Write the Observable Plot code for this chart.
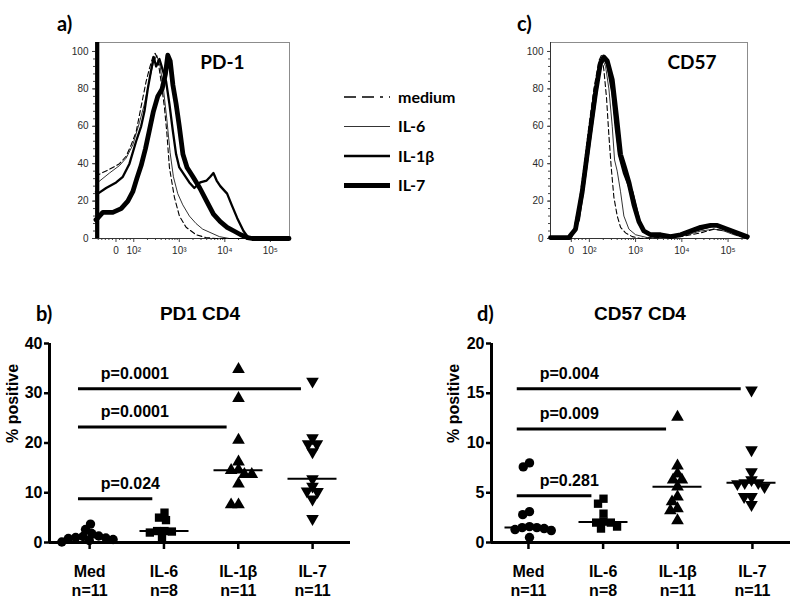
<!DOCTYPE html>
<html><head><meta charset="utf-8">
<script src="https://cdn.jsdelivr.net/npm/d3@7"></script>
<script src="https://cdn.jsdelivr.net/npm/@observablehq/plot@0.6"></script>
<style>
body{margin:0;background:#fff;}
#fig{position:relative;width:800px;height:599px;background:#fff;overflow:hidden;}
#fig > svg{position:absolute;}
</style></head><body><div id="fig"></div>
<script>
// ---------------- data ----------------
const groups = ["Med", "IL-6", "IL-1β", "IL-7"];
const groupN = [11, 8, 11, 11];

// % positive, PD1 on CD4
const pd1Med  = [3.7, 2.6, 1.8, 1.3, 1.2, 1.0, 0.9, 0.8, 0.6, 0.4, 0.1];
const pd1IL6  = [6.0, 5.0, 4.5, 2.3, 2.3, 2.2, 2.0, 0.9];
const pd1IL1b = [34.8, 29.0, 20.6, 16.2, 14.6, 14.5, 13.7, 13.7, 11.8, 7.6, 7.6];
const pd1IL7  = [32.4, 21.0, 19.8, 19.8, 18.2, 12.8, 11.3, 10.3, 10.2, 8.7, 4.8];

// % positive, CD57 on CD4
const cd57Med  = [8.0, 7.6, 3.1, 2.8, 1.6, 1.5, 1.5, 1.4, 1.3, 1.2, 0.5];
const cd57IL6  = [4.4, 3.9, 2.9, 2.1, 2.0, 2.0, 1.6, 1.4];
const cd57IL1b = [12.6, 7.7, 6.9, 6.3, 6.3, 5.6, 4.6, 4.1, 3.4, 3.2, 2.2];
const cd57IL7  = [15.3, 9.3, 7.1, 6.3, 6.0, 6.0, 5.9, 5.6, 4.6, 4.6, 3.8];

const pd1Tests = [
  {from: "Med", to: "IL-6",  y: 8.8,  p: "p=0.024"},
  {from: "Med", to: "IL-1β", y: 23.2, p: "p=0.0001"},
  {from: "Med", to: "IL-7",  y: 30.9, p: "p=0.0001"}
];
const cd57Tests = [
  {from: "Med", to: "IL-6",  y: 4.7,  p: "p=0.281"},
  {from: "Med", to: "IL-1β", y: 11.4, p: "p=0.009"},
  {from: "Med", to: "IL-7",  y: 15.45, p: "p=0.004"}
];

// histograms: [biexponential display position (decades), % of max]
const pd1MediumHist = [[1.17,35],[1.212,34],[1.467,37],[1.687,40],[1.833,44],[1.943,50],[2.052,57],[2.125,66],[2.198,75],[2.272,84],[2.345,91],[2.418,97],[2.469,99],[2.527,96],[2.6,84],[2.674,70],[2.725,57],[2.783,38],[2.893,22],[3.003,12],[3.149,6],[3.368,2],[3.587,0.5],[3.807,0],[5.41,0]];
const pd1IL6Hist = [[1.17,31],[1.212,30],[1.467,35],[1.687,39],[1.833,43],[1.979,50],[2.125,62],[2.235,72],[2.345,85],[2.432,94],[2.505,98],[2.579,92],[2.652,80],[2.725,64],[2.798,46],[2.871,33],[2.966,24],[3.076,18],[3.222,12],[3.368,8],[3.514,5],[3.697,3],[3.88,1],[4.099,0],[5.41,0]];
const pd1IL1bHist = [[1.17,25],[1.212,24],[1.394,27],[1.614,30],[1.76,33],[1.906,40],[2.052,52],[2.162,60],[2.235,68],[2.308,80],[2.381,90],[2.44,97],[2.491,92],[2.564,96],[2.637,90],[2.71,84],[2.783,72],[2.856,58],[2.93,45],[3.0,38],[3.11,34],[3.22,30],[3.33,27],[3.46,30],[3.6,31],[3.68,33],[3.75,35],[3.82,31],[3.9,28],[4.05,24],[4.15,18],[4.27,11],[4.41,4],[4.5,1],[4.6,0],[5.41,0]];
const pd1IL7Hist = [[1.17,10],[1.212,11],[1.321,14],[1.54,14],[1.723,16],[1.87,20],[1.979,25],[2.067,32],[2.162,39],[2.257,48],[2.345,58],[2.432,68],[2.527,76],[2.623,80],[2.696,88],[2.747,98],[2.8,95],[2.86,82],[2.93,72],[3.0,60],[3.08,45],[3.17,38],[3.3,33],[3.45,27],[3.6,20],[3.75,13],[3.9,9],[4.05,6],[4.2,4],[4.35,2],[4.5,0.5],[4.6,0],[5.41,0]];
const pd1Pileup = [[1.2, 104.8]];

const cd57MediumHist = [[1.16,0],[1.557,0],[1.665,5],[1.773,18],[1.882,38],[1.99,60],[2.098,80],[2.206,95],[2.264,98],[2.315,90],[2.372,75],[2.423,55],[2.473,38],[2.531,22],[2.603,12],[2.675,6],[2.783,3],[2.928,1],[3.108,0],[3.974,1],[4.407,3],[4.695,5],[4.984,4],[5.273,1],[5.417,0]];
const cd57IL6Hist = [[1.16,0],[1.593,0],[1.737,8],[1.882,30],[2.026,58],[2.17,85],[2.278,96],[2.351,92],[2.423,80],[2.495,60],[2.545,42],[2.603,36],[2.675,25],[2.747,12],[2.856,5],[3.0,2],[3.252,0.5],[3.83,1],[4.118,2],[4.407,4],[4.695,5],[4.912,4],[5.128,2],[5.417,0]];
const cd57IL1bHist = [[1.16,0],[1.593,0],[1.773,10],[1.918,35],[2.062,62],[2.206,88],[2.3,97],[2.387,93],[2.495,78],[2.567,60],[2.639,45],[2.747,35],[2.856,28],[2.928,25],[3.0,18],[3.072,10],[3.18,4],[3.325,2],[3.541,1],[3.83,1],[4.118,3],[4.407,5],[4.695,7],[4.912,6],[5.128,3],[5.345,1],[5.417,0]];
const cd57IL7Hist = [[1.16,0.5],[1.557,0.5],[1.701,5],[1.846,25],[1.99,52],[2.134,78],[2.242,94],[2.315,97],[2.387,95],[2.495,85],[2.589,65],[2.675,45],[2.762,38],[2.856,30],[2.964,18],[3.072,9],[3.18,4],[3.325,2],[3.541,2],[3.757,1],[3.974,2],[4.19,4],[4.407,6],[4.623,7],[4.767,7],[4.984,5],[5.2,3],[5.417,1]];

const tickValues = [0, 1e2, 1e3, 1e4, 1e5];
const tickLabels = ["0", "10²", "10³", "10⁴", "10⁵"];
const legendItems = ["medium", "IL-6", "IL-1β", "IL-7"];

// ---------------- helpers ----------------
const biex = v => v >= 100 ? Math.log10(v) : 1.61 + 0.0039 * v;
const xLo = 1.16, xHi = 5.42, yTop = 104.8;
const majorX = tickValues.map(biex);
const labelOf = new Map(majorX.map((u, i) => [u, tickLabels[i]]));
const minorX = [
  ...d3.range(-100, 100, 20).filter(v => v !== 0).map(biex),
  ...d3.range(2, 6).flatMap(d => d3.range(2, 10).map(k => d + Math.log10(k))).filter(u => u < xHi)
];
const styles = [
  {strokeWidth: 1.1, strokeDasharray: "5,3"},
  {strokeWidth: 0.8},
  {strokeWidth: 2.3},
  {strokeWidth: 4.8}
];
const fig = document.getElementById("fig");

function histogram(curves, title, pos) {
  const svg = Plot.plot({
    width: 300, height: 265,
    marginLeft: pos.ml, marginRight: pos.mr, marginTop: 42, marginBottom: 27,
    x: {domain: [xLo, xHi], label: null},
    y: {domain: [0, yTop], label: null},
    style: {background: "transparent", fontFamily: "'Liberation Sans', Arial, sans-serif", color: "#2a2a2a"},
    marks: [
      Plot.frame({stroke: "#8c8c8c"}),
      Plot.axisX(minorX, {tickSize: 2, tickFormat: () => "", stroke: "#444"}),
      Plot.axisX(majorX, {tickSize: 4, tickPadding: 4, tickFormat: u => labelOf.get(u), fontSize: 10, stroke: "#444"}),
      Plot.axisY(d3.range(0, 101, 4), {tickSize: 2, tickFormat: () => "", stroke: "#444"}),
      Plot.axisY(d3.range(0, 101, 20), {tickSize: 3, tickPadding: 4, fontSize: 10, stroke: "#444"}),
      Plot.ruleY([0], {stroke: "#333"}),
      Plot.ruleX([xLo], {stroke: "#333"}),
      ...(pos.pileup ? [Plot.ruleX(pos.pileup, {x: d => d[0], y1: 0, y2: d => d[1], strokeWidth: 4, stroke: "black"})] : []),
      ...curves.map((c, i) => Plot.line(c, {x: d => d[0], y: d => d[1], stroke: "black", strokeLinejoin: "round", ...styles[i]})),
      Plot.text([title], {frameAnchor: "top-right", textAnchor: "end", dx: pos.tdx, dy: 20, lineAnchor: "middle", fontSize: 19, fontWeight: "bold", fontFamily: "Lato, sans-serif", fill: "black"})
    ]
  });
  svg.style.left = pos.left + "px";
  svg.style.top = "0px";
  fig.appendChild(svg);
}

const triDown = {
  draw(context, size) {
    const y = Math.sqrt(size / (3 * Math.sqrt(3)));
    context.moveTo(0, 2 * y);
    context.lineTo(-Math.sqrt(3) * y, -y);
    context.lineTo(Math.sqrt(3) * y, -y);
    context.closePath();
  }
};

function dotPanel(series, tests, cfg) {
  const rows = series.flatMap((vals, i) => vals.map(value => ({group: groups[i], value})));
  const idx = g => groups.indexOf(g);
  const font = "'Liberation Sans', Arial, sans-serif";
  const main = Plot.plot({
    width: cfg.w, height: 329,
    marginLeft: cfg.ml, marginRight: cfg.mr, marginTop: 73, marginBottom: 57,
    x: {domain: cfg.xDomain, label: null},
    y: {domain: [0, cfg.yMax], label: null},
    style: {background: "transparent", fontFamily: font, color: "black"},
    marks: [
      Plot.axisY(cfg.yTicks, {tickSize: 5, tickPadding: 2, fontSize: 16, fontWeight: "bold", strokeWidth: 2.5}),
      Plot.axisX(d3.range(groups.length), {tickSize: 7, tickPadding: 14, fontSize: 16, fontWeight: "bold", strokeWidth: 2.5, lineHeight: 1.2,
        tickFormat: i => `${groups[i]}\nn=${groupN[i]}`}),
      Plot.ruleY([0], {strokeWidth: 3}),
      Plot.ruleX([cfg.xDomain[0]], {strokeWidth: 3}),
      Plot.ruleY(tests, {x1: d => idx(d.from) - 0.15, x2: d => idx(d.to) - 0.15, y: "y", strokeWidth: 3}),
      Plot.text(tests, {x: d => idx(d.from) + 0.15, y: "y", text: "p", textAnchor: "start", dy: -15, fontSize: 16, fontWeight: "bold"}),
      Plot.text(["% positive"], {frameAnchor: "left", rotate: -90, dx: cfg.labelDx, fontSize: 16, fontWeight: "bold"})
    ]
  });
  main.style.left = cfg.left + "px";
  main.style.top = "270px";
  fig.appendChild(main);

  const dots = Plot.plot({
    width: cfg.w, height: 329,
    marginLeft: cfg.fml, marginRight: cfg.fmr, marginTop: 73, marginBottom: 57,
    fx: {domain: groups, paddingInner: 0, paddingOuter: 0, axis: null},
    y: {domain: [0, cfg.yMax], axis: null},
    symbol: {domain: groups, range: [d3.symbolCircle, d3.symbolSquare, d3.symbolTriangle, triDown]},
    style: {background: "transparent"},
    marks: [
      Plot.dot(rows, Plot.dodgeX({anchor: "middle", padding: -2}, {fx: "group", y: "value", r: 4.7, symbol: "group", fill: "black", stroke: "none"})),
      Plot.ruleY(rows, Plot.groupZ({y: "median"}, {fx: "group", y: "value", insetLeft: 12.5, insetRight: 12.5, strokeWidth: 2, stroke: "black"}))
    ]
  });
  dots.style.left = cfg.left + "px";
  dots.style.top = "270px";
  fig.appendChild(dots);
}

histogram([pd1MediumHist, pd1IL6Hist, pd1IL1bHist, pd1IL7Hist], "PD-1", {left: 0, ml: 95, mr: 11, tdx: -45, pileup: pd1Pileup});
histogram([cd57MediumHist, cd57IL6Hist, cd57IL1bHist, cd57IL7Hist], "CD57", {left: 460, ml: 90, mr: 13, tdx: -31});

dotPanel([pd1Med, pd1IL6, pd1IL1b, pd1IL7], pd1Tests,
  {left: 0, w: 360, ml: 49, mr: 10, fml: 52, fmr: 11, xDomain: [-0.54, 3.51], yMax: 40, yTicks: [0, 10, 20, 30, 40], labelDx: -37});
dotPanel([cd57Med, cd57IL6, cd57IL1b, cd57IL7], cd57Tests,
  {left: 400, w: 400, ml: 91, mr: 10, fml: 90.7, fmr: 10.7, xDomain: [-0.495, 3.51], yMax: 20, yTicks: [0, 5, 10, 15, 20], labelDx: -38});

// ---------------- static labels & legend ----------------
const over = d3.select(fig).append("svg").attr("width", 800).attr("height", 599)
  .style("left", "0px").style("top", "0px").style("pointer-events", "none");
const panelLabels = [["a)", 57, 31], ["c)", 517, 31], ["b)", 36, 321], ["d)", 477, 321]];
over.selectAll("text.pl").data(panelLabels).join("text").attr("class", "pl")
  .attr("x", d => d[1]).attr("y", d => d[2]).text(d => d[0])
  .attr("font-family", "Lato, sans-serif").attr("font-weight", "bold").attr("font-size", 20);
over.selectAll("text.tt").data([["PD1 CD4", 200, 320], ["CD57 CD4", 640, 320]]).join("text").attr("class", "tt")
  .attr("x", d => d[1]).attr("y", d => d[2]).text(d => d[0]).attr("text-anchor", "middle")
  .attr("font-family", "'Liberation Sans', Arial, sans-serif").attr("font-weight", "bold").attr("font-size", 19);
const lg = over.append("g");
legendItems.forEach((name, i) => {
  const y = 97 + i * 29.5;
  lg.append("line").attr("x1", 344).attr("x2", 390).attr("y1", y).attr("y2", y)
    .attr("stroke", "black").attr("stroke-width", styles[i].strokeWidth + (i === 0 ? 0.5 : 0))
    .attr("stroke-dasharray", i === 0 ? "12,6,12,6,3,6" : null);
  lg.append("text").attr("x", 398).attr("y", y).attr("dy", "0.35em").text(name)
    .attr("font-family", "Lato, sans-serif").attr("font-weight", "bold").attr("font-size", 16);
});
</script></body></html>
